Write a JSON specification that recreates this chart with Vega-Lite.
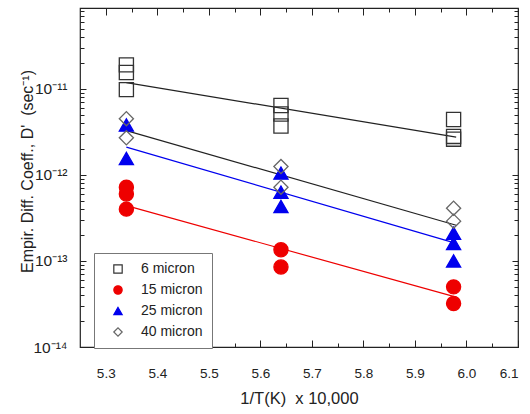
{
  "$schema": "https://vega.github.io/schema/vega-lite/v6.json",
  "width": 438,
  "height": 339,
  "autosize": "none",
  "padding": {"left": 80, "top": 8, "right": 12, "bottom": 67},
  "background": "white",
  "config": {
    "font": "Liberation Sans",
    "view": {"stroke": "#222", "strokeWidth": 1.2},
    "axis": {
      "domain": false,
      "grid": false,
      "tickColor": "#222",
      "tickWidth": 1,
      "labelColor": "#222",
      "labelFont": "Liberation Sans",
      "labelFontSize": 13.5,
      "titleFont": "Liberation Sans",
      "titleFontSize": 14,
      "titleFontWeight": "normal",
      "titleColor": "#222"
    },
    "legend": {
      "orient": "none",
      "legendX": 14,
      "legendY": 245,
      "padding": 9,
      "strokeColor": "#777",
      "fillColor": "white",
      "labelFont": "Liberation Sans",
      "labelFontSize": 14,
      "labelColor": "#222",
      "labelOffset": 16,
      "symbolSize": 70,
      "symbolStrokeWidth": 1.2,
      "symbolOffset": 8,
      "rowPadding": 7
    }
  },
  "datasets": {
    "fits": [
      {"series": "6 micron", "x": 5.34, "D": 1.18e-11},
      {"series": "6 micron", "x": 5.98, "D": 2.75e-12},
      {"series": "40 micron", "x": 5.34, "D": 3.27e-12},
      {"series": "40 micron", "x": 5.98, "D": 2.6e-13},
      {"series": "25 micron", "x": 5.34, "D": 2.1e-12},
      {"series": "25 micron", "x": 5.98, "D": 1.6e-13},
      {"series": "15 micron", "x": 5.34, "D": 4.4e-13},
      {"series": "15 micron", "x": 5.98, "D": 3.8e-14}
    ],
    "obs": [
      {"series": "6 micron", "x": 5.34, "D": 1.9e-11},
      {"series": "6 micron", "x": 5.34, "D": 1.55e-11},
      {"series": "6 micron", "x": 5.34, "D": 9.8e-12},
      {"series": "6 micron", "x": 5.64, "D": 6.4e-12},
      {"series": "6 micron", "x": 5.64, "D": 5.1e-12},
      {"series": "6 micron", "x": 5.64, "D": 3.7e-12},
      {"series": "6 micron", "x": 5.975, "D": 4.4e-12},
      {"series": "6 micron", "x": 5.975, "D": 2.8e-12},
      {"series": "6 micron", "x": 5.975, "D": 2.6e-12},
      {"series": "15 micron", "x": 5.34, "D": 7.2e-13},
      {"series": "15 micron", "x": 5.34, "D": 6.0e-13},
      {"series": "15 micron", "x": 5.34, "D": 4.0e-13},
      {"series": "15 micron", "x": 5.64, "D": 1.35e-13},
      {"series": "15 micron", "x": 5.64, "D": 8.5e-14},
      {"series": "15 micron", "x": 5.975, "D": 5.0e-14},
      {"series": "15 micron", "x": 5.975, "D": 3.2e-14},
      {"series": "25 micron", "x": 5.34, "D": 3.8e-12},
      {"series": "25 micron", "x": 5.34, "D": 1.55e-12},
      {"series": "25 micron", "x": 5.64, "D": 1.05e-12},
      {"series": "25 micron", "x": 5.64, "D": 6.3e-13},
      {"series": "25 micron", "x": 5.64, "D": 4.3e-13},
      {"series": "25 micron", "x": 5.975, "D": 2.1e-13},
      {"series": "25 micron", "x": 5.975, "D": 1.6e-13},
      {"series": "25 micron", "x": 5.975, "D": 1.0e-13},
      {"series": "40 micron", "x": 5.34, "D": 4.5e-12},
      {"series": "40 micron", "x": 5.34, "D": 2.7e-12},
      {"series": "40 micron", "x": 5.64, "D": 1.25e-12},
      {"series": "40 micron", "x": 5.64, "D": 7.2e-13},
      {"series": "40 micron", "x": 5.975, "D": 4.1e-13},
      {"series": "40 micron", "x": 5.975, "D": 2.9e-13}
    ]
  },
  "resolve": {"axis": {"x": "independent", "y": "independent"}},
  "layer": [
    {
      "data": {"name": "fits"},
      "mark": {"type": "line", "strokeWidth": 1.2},
      "encoding": {
        "x": {
          "field": "x", "type": "quantitative",
          "scale": {"domain": [5.25, 6.1], "nice": false, "zero": false},
          "axis": {
            "orient": "bottom",
            "values": [5.3, 5.4, 5.5, 5.6, 5.7, 5.8, 5.9, 6.0, 6.1],
            "format": ".1f",
            "tickSize": -7,
            "labelPadding": 26,
            "title": "1/T(K)\u00a0 x 10,000",
            "titleFontSize": 16.5,
            "titlePadding": 11
          }
        },
        "y": {
          "field": "D", "type": "quantitative",
          "scale": {"type": "log", "domain": [1e-14, 8.7e-11], "nice": false},
          "axis": {
            "orient": "left",
            "values": [1e-14, 1e-13, 1e-12, 1e-11],
            "labelExpr": "datum.value < 5e-14 ? '10⁻¹⁴' : datum.value < 5e-13 ? '10⁻¹³' : datum.value < 5e-12 ? '10⁻¹²' : '10⁻¹¹'",
            "tickSize": -6,
            "labelPadding": 19,
            "labelFontSize": 15.5,
            "title": "Empir. Diff. Coeff., D'\u00a0 (sec⁻¹)",
            "titleFontSize": 16,
            "titleX": -45,
            "titleY": 163
          }
        },
        "color": {
          "field": "series", "type": "nominal",
          "scale": {"domain": ["6 micron", "40 micron", "25 micron", "15 micron"], "range": ["#222222", "#222222", "#0000ee", "#ee0000"]},
          "legend": null
        }
      }
    },
    {
      "data": {"name": "obs"},
      "mark": {"type": "point", "size": 200, "strokeWidth": 1.3, "opacity": 1},
      "encoding": {
        "x": {
          "field": "x", "type": "quantitative",
          "axis": {
            "orient": "bottom",
            "values": [5.35, 5.45, 5.55, 5.65, 5.75, 5.85, 5.95, 6.05],
            "labels": false, "tickSize": -4, "title": null
          }
        },
        "y": {
          "field": "D", "type": "quantitative",
          "axis": {
            "orient": "left",
            "values": [2e-14, 3e-14, 4e-14, 5e-14, 6e-14, 7e-14, 8e-14, 9e-14, 2e-13, 3e-13, 4e-13, 5e-13, 6e-13, 7e-13, 8e-13, 9e-13, 2e-12, 3e-12, 4e-12, 5e-12, 6e-12, 7e-12, 8e-12, 9e-12, 2e-11, 3e-11, 4e-11, 5e-11, 6e-11, 7e-11, 8e-11],
            "labels": false, "tickSize": -4, "title": null
          }
        },
        "shape": {
          "field": "series", "type": "nominal",
          "scale": {"domain": ["6 micron", "15 micron", "25 micron", "40 micron"], "range": ["square", "circle", "triangle-up", "diamond"]},
          "legend": {"title": null, "symbolSize": 70, "encode": {"symbols": {"update": {"size": {"value": 70}}}}}
        },
        "stroke": {
          "field": "series", "type": "nominal",
          "scale": {"domain": ["6 micron", "15 micron", "25 micron", "40 micron"], "range": ["#333333", "#ee0000", "#0000ee", "#666666"]},
          "legend": {"title": null}
        },
        "fill": {
          "field": "series", "type": "nominal",
          "scale": {"domain": ["6 micron", "15 micron", "25 micron", "40 micron"], "range": ["transparent", "#ee0000", "#0000ee", "transparent"]},
          "legend": {"title": null}
        }
      }
    },
    {
      "data": {"name": "fits"},
      "mark": {"type": "point", "opacity": 0},
      "encoding": {
        "x": {
          "field": "x", "type": "quantitative",
          "axis": {
            "orient": "top",
            "values": [5.3, 5.4, 5.5, 5.6, 5.7, 5.8, 5.9, 6.0, 6.1],
            "labels": false, "tickSize": -7, "title": null
          }
        },
        "y": {
          "field": "D", "type": "quantitative",
          "axis": {
            "orient": "right",
            "values": [1e-14, 1e-13, 1e-12, 1e-11],
            "labels": false, "tickSize": -6, "title": null
          }
        }
      }
    },
    {
      "data": {"name": "fits"},
      "mark": {"type": "point", "opacity": 0},
      "encoding": {
        "x": {
          "field": "x", "type": "quantitative",
          "axis": {
            "orient": "top",
            "values": [5.35, 5.45, 5.55, 5.65, 5.75, 5.85, 5.95, 6.05],
            "labels": false, "tickSize": -4, "title": null
          }
        },
        "y": {
          "field": "D", "type": "quantitative",
          "axis": {
            "orient": "right",
            "values": [2e-14, 3e-14, 4e-14, 5e-14, 6e-14, 7e-14, 8e-14, 9e-14, 2e-13, 3e-13, 4e-13, 5e-13, 6e-13, 7e-13, 8e-13, 9e-13, 2e-12, 3e-12, 4e-12, 5e-12, 6e-12, 7e-12, 8e-12, 9e-12, 2e-11, 3e-11, 4e-11, 5e-11, 6e-11, 7e-11, 8e-11],
            "labels": false, "tickSize": -4, "title": null
          }
        }
      }
    }
  ]
}
